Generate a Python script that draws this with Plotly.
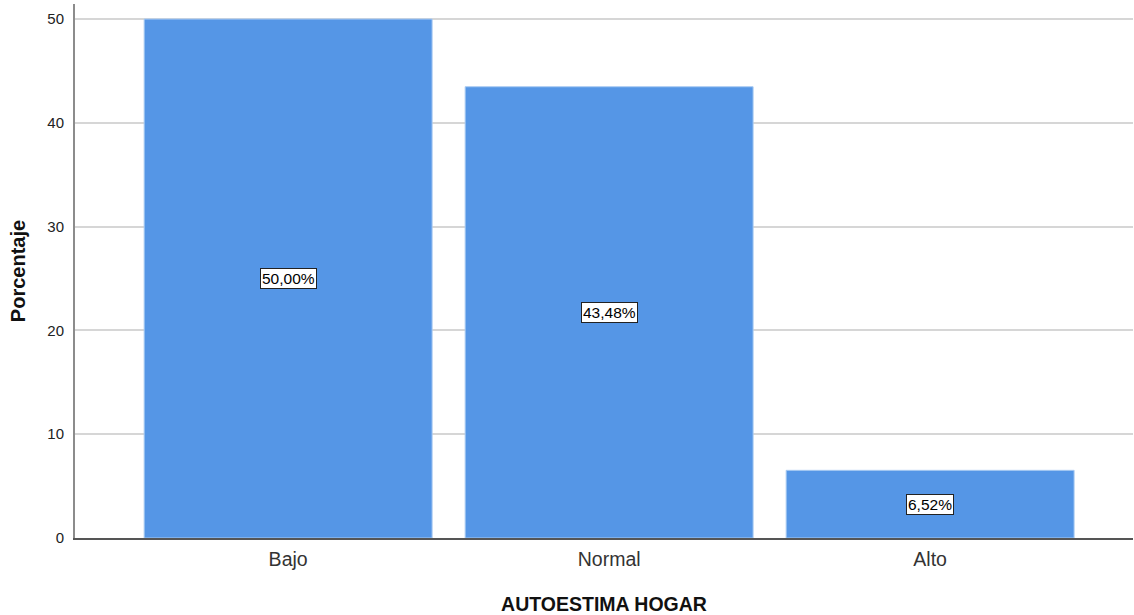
import plotly.graph_objects as go

categories = ["Bajo", "Normal", "Alto"]
percentages = [50.00, 43.48, 6.52]
value_labels = ["50,00%", "43,48%", "6,52%"]
y_ticks = [0, 10, 20, 30, 40, 50]

fig = go.Figure()
fig.add_trace(go.Bar(
    x=categories, y=percentages,
    marker=dict(color="#5596E6", line=dict(color="#A9CBF2", width=1)),
    width=0.897, hoverinfo="skip",
))

for c, v, lab in zip(categories, percentages, value_labels):
    fig.add_annotation(
        x=c, y=v / 2, text=lab, showarrow=False,
        font=dict(family="Liberation Sans, Arial", size=15.5, color="#000"),
        bgcolor="white", bordercolor="#222", borderwidth=1, borderpad=1,
        xref="x", yref="y",
    )

fig.update_layout(
    width=1134, height=615,
    margin=dict(l=75, r=1, t=4, b=77),
    paper_bgcolor="white", plot_bgcolor="white",
    showlegend=False,
    font=dict(family="Liberation Sans, Arial", color="#222"),
    xaxis=dict(
        range=[-0.664, 2.632], showgrid=False, ticks="",
        showline=True, linecolor="#555", linewidth=1.5,
        tickfont=dict(size=19.5, color="#333"), automargin=False,
        ticklabelstandoff=3,
        title=dict(text="<b>AUTOESTIMA HOGAR</b>", font=dict(size=19.5, color="#111"), standoff=29),
    ),
    yaxis=dict(
        range=[0, 51.45], tickvals=y_ticks, ticks="",
        showgrid=True, gridcolor="#D6D6D6", gridwidth=2,
        showline=True, linecolor="#8C8C8C", linewidth=2,
        zeroline=False, automargin=False,
        tickfont=dict(size=15, color="#222"), ticklabelstandoff=6,
        title=dict(text="<b>Porcentaje</b>", font=dict(size=20, color="#111"), standoff=16),
    ),
)

fig.write_html("out.html", config={"displayModeBar": False},
               post_script="document.body.style.margin='0';")
